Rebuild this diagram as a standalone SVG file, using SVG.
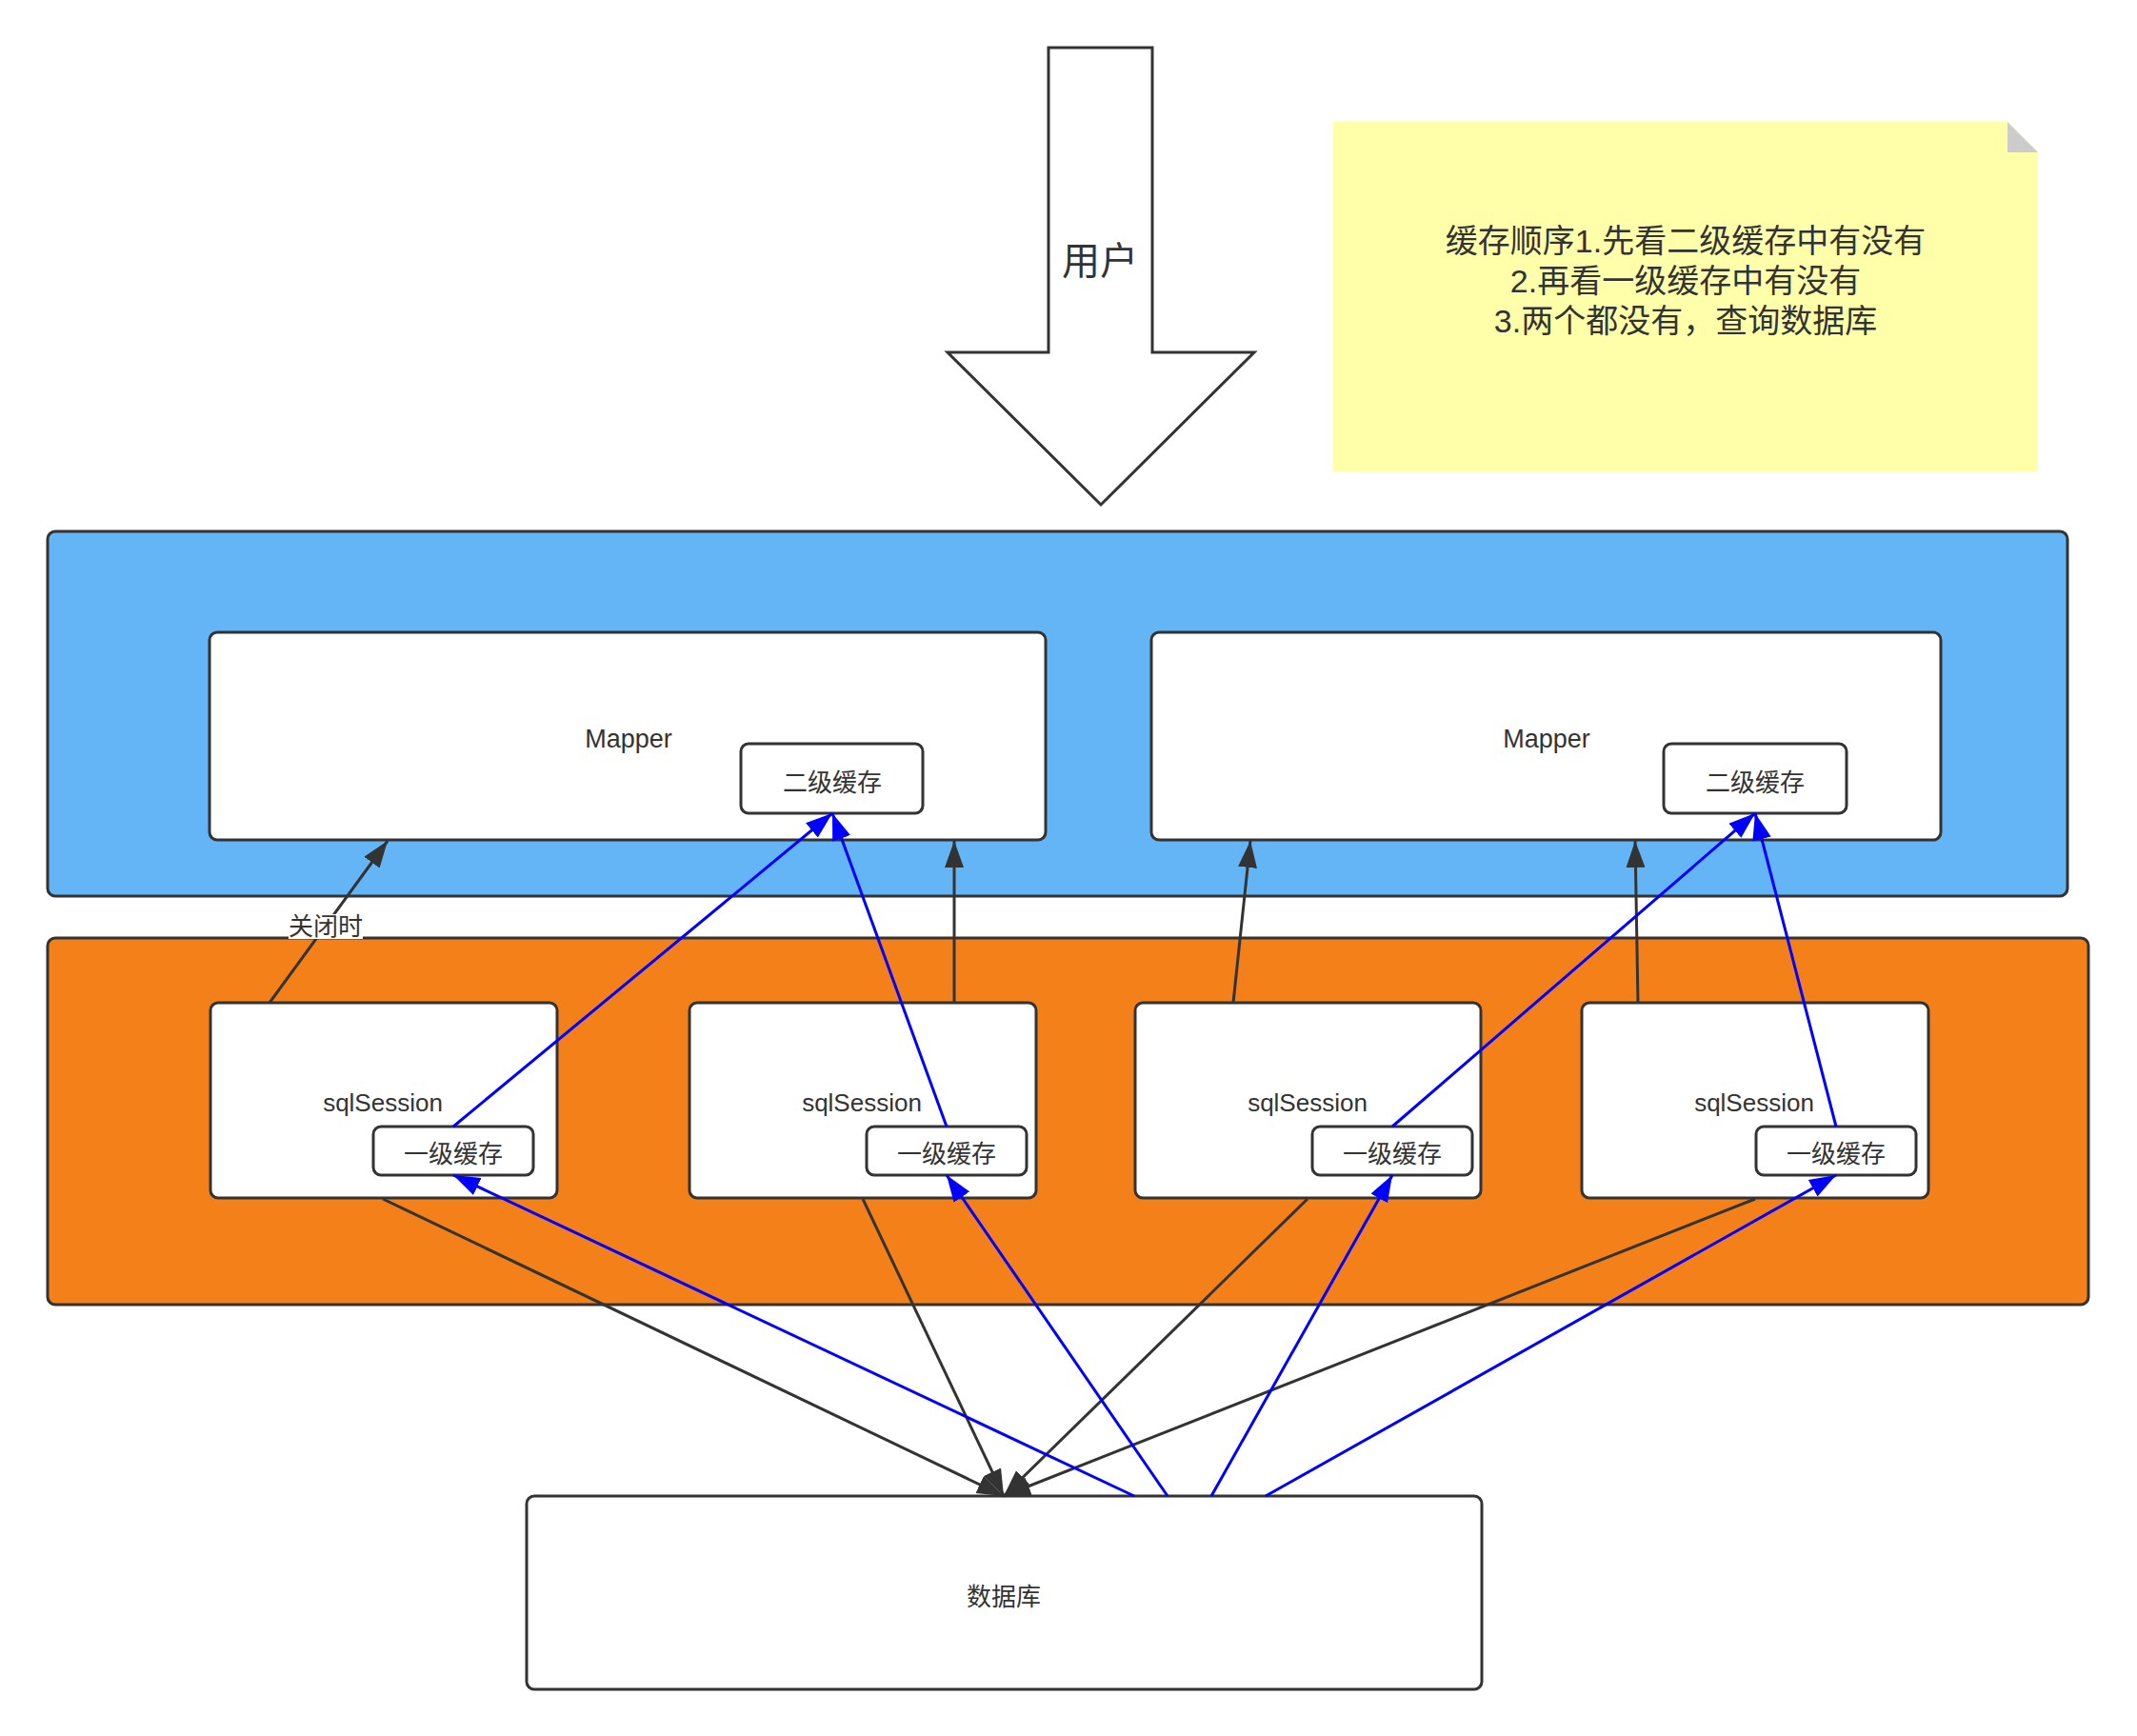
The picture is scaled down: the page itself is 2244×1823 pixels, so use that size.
<svg xmlns="http://www.w3.org/2000/svg" width="2244" height="1823" viewBox="0 0 2244 1823">
<style>
text{font-family:"Liberation Sans","Noto Sans CJK SC",sans-serif;fill:#333;text-anchor:middle}
.box{fill:#fff;stroke:#333;stroke-width:3}
.k{stroke:#333;stroke-width:3;fill:none;marker-end:url(#ak)}
.b{stroke:#0000ff;stroke-width:3;fill:none;marker-end:url(#ab)}
.t26{font-size:26px}
.note{font-size:34px}
</style>
<defs>
<marker id="ak" markerUnits="userSpaceOnUse" markerWidth="30" markerHeight="22" viewBox="0 0 30 22" refX="28" refY="10" orient="auto"><path d="M0,0 L28,10 L0,20 z" fill="#333"/></marker>
<marker id="ab" markerUnits="userSpaceOnUse" markerWidth="30" markerHeight="22" viewBox="0 0 30 22" refX="28" refY="10" orient="auto"><path d="M0,0 L28,10 L0,20 z" fill="#0000ff"/></marker>
</defs>
<rect width="2244" height="1823" fill="#fff"/>
<g id="user">
<polygon points="1101,50 1210,50 1210,370 1317,370 1156,530 995,370 1101,370" fill="#fff" stroke="#333" stroke-width="3"/>
<text x="1155" y="288" style="font-size:40px">用户</text>
</g>
<g id="note">
<polygon points="1400,128 2108,128 2140,160 2140,495 1400,495" fill="#ffffaa"/>
<polygon points="2108,128 2140,160 2108,160" fill="#cccccc"/>
<text class="note" x="1770" y="265">缓存顺序1.先看二级缓存中有没有</text>
<text class="note" x="1770" y="307">2.再看一级缓存中有没有</text>
<text class="note" x="1770" y="349">3.两个都没有，查询数据库</text>
</g>
<g id="mapper-layer">
<rect x="50" y="558" width="2121" height="383" rx="8" fill="#64b5f6" stroke="#333" stroke-width="3"/>
</g>
<g id="session-layer">
<rect x="50" y="985" width="2143" height="385" rx="8" fill="#f4801a" stroke="#333" stroke-width="3"/>
</g>
<g id="mapper1">
<rect class="box" x="220" y="664" width="878" height="218" rx="8"/>
<text x="660" y="785" style="font-size:27px">Mapper</text>
</g>
<g id="cache2-1">
<rect class="box" x="778" y="781" width="191" height="73" rx="8"/>
<text class="t26" x="874" y="831">二级缓存</text>
</g>
<g id="mapper2">
<rect class="box" x="1209" y="664" width="829" height="218" rx="8"/>
<text x="1624" y="785" style="font-size:27px">Mapper</text>
</g>
<g id="cache2-2">
<rect class="box" x="1747" y="781" width="192" height="73" rx="8"/>
<text class="t26" x="1843" y="831">二级缓存</text>
</g>
<g id="session1">
<rect class="box" x="221" y="1053" width="364" height="205" rx="8"/>
<text class="t26" x="402" y="1167">sqlSession</text>
</g>
<g id="cache1-1">
<rect class="box" x="392" y="1183" width="168" height="51" rx="8"/>
<text class="t26" x="476" y="1221">一级缓存</text>
</g>
<g id="session2">
<rect class="box" x="724" y="1053" width="364" height="205" rx="8"/>
<text class="t26" x="905" y="1167">sqlSession</text>
</g>
<g id="cache1-2">
<rect class="box" x="910" y="1183" width="168" height="51" rx="8"/>
<text class="t26" x="994" y="1221">一级缓存</text>
</g>
<g id="session3">
<rect class="box" x="1192" y="1053" width="363" height="205" rx="8"/>
<text class="t26" x="1373" y="1167">sqlSession</text>
</g>
<g id="cache1-3">
<rect class="box" x="1378" y="1183" width="168" height="51" rx="8"/>
<text class="t26" x="1462" y="1221">一级缓存</text>
</g>
<g id="session4">
<rect class="box" x="1661" y="1053" width="364" height="205" rx="8"/>
<text class="t26" x="1842" y="1167">sqlSession</text>
</g>
<g id="cache1-4">
<rect class="box" x="1844" y="1183" width="168" height="51" rx="8"/>
<text class="t26" x="1928" y="1221">一级缓存</text>
</g>
<g id="database">
<rect class="box" x="553" y="1571" width="1003" height="203" rx="8"/>
<text class="t26" x="1054" y="1686">数据库</text>
</g>
<g id="connectors">
<line class="k" x1="283" y1="1053" x2="407" y2="883"/>
<rect x="303" y="960" width="78" height="26" fill="#fff"/>
<text class="t26" x="342" y="982">关闭时</text>
<line class="k" x1="1002" y1="1053" x2="1002" y2="883"/>
<line class="k" x1="1295" y1="1053" x2="1313" y2="883"/>
<line class="k" x1="1720" y1="1053" x2="1717" y2="883"/>
<line class="k" x1="402" y1="1259" x2="1054" y2="1571"/>
<line class="k" x1="906" y1="1259" x2="1054" y2="1571"/>
<line class="k" x1="1373" y1="1259" x2="1054" y2="1571"/>
<line class="k" x1="1843" y1="1259" x2="1054" y2="1571"/>
<line class="b" x1="476" y1="1183" x2="874" y2="854"/>
<line class="b" x1="994" y1="1183" x2="874" y2="854"/>
<line class="b" x1="1462" y1="1183" x2="1843" y2="854"/>
<line class="b" x1="1928" y1="1183" x2="1843" y2="854"/>
<line class="b" x1="1191" y1="1571" x2="476" y2="1234"/>
<line class="b" x1="1226" y1="1571" x2="994" y2="1234"/>
<line class="b" x1="1272" y1="1571" x2="1462" y2="1234"/>
<line class="b" x1="1329" y1="1571" x2="1928" y2="1234"/>
</g>
</svg>
